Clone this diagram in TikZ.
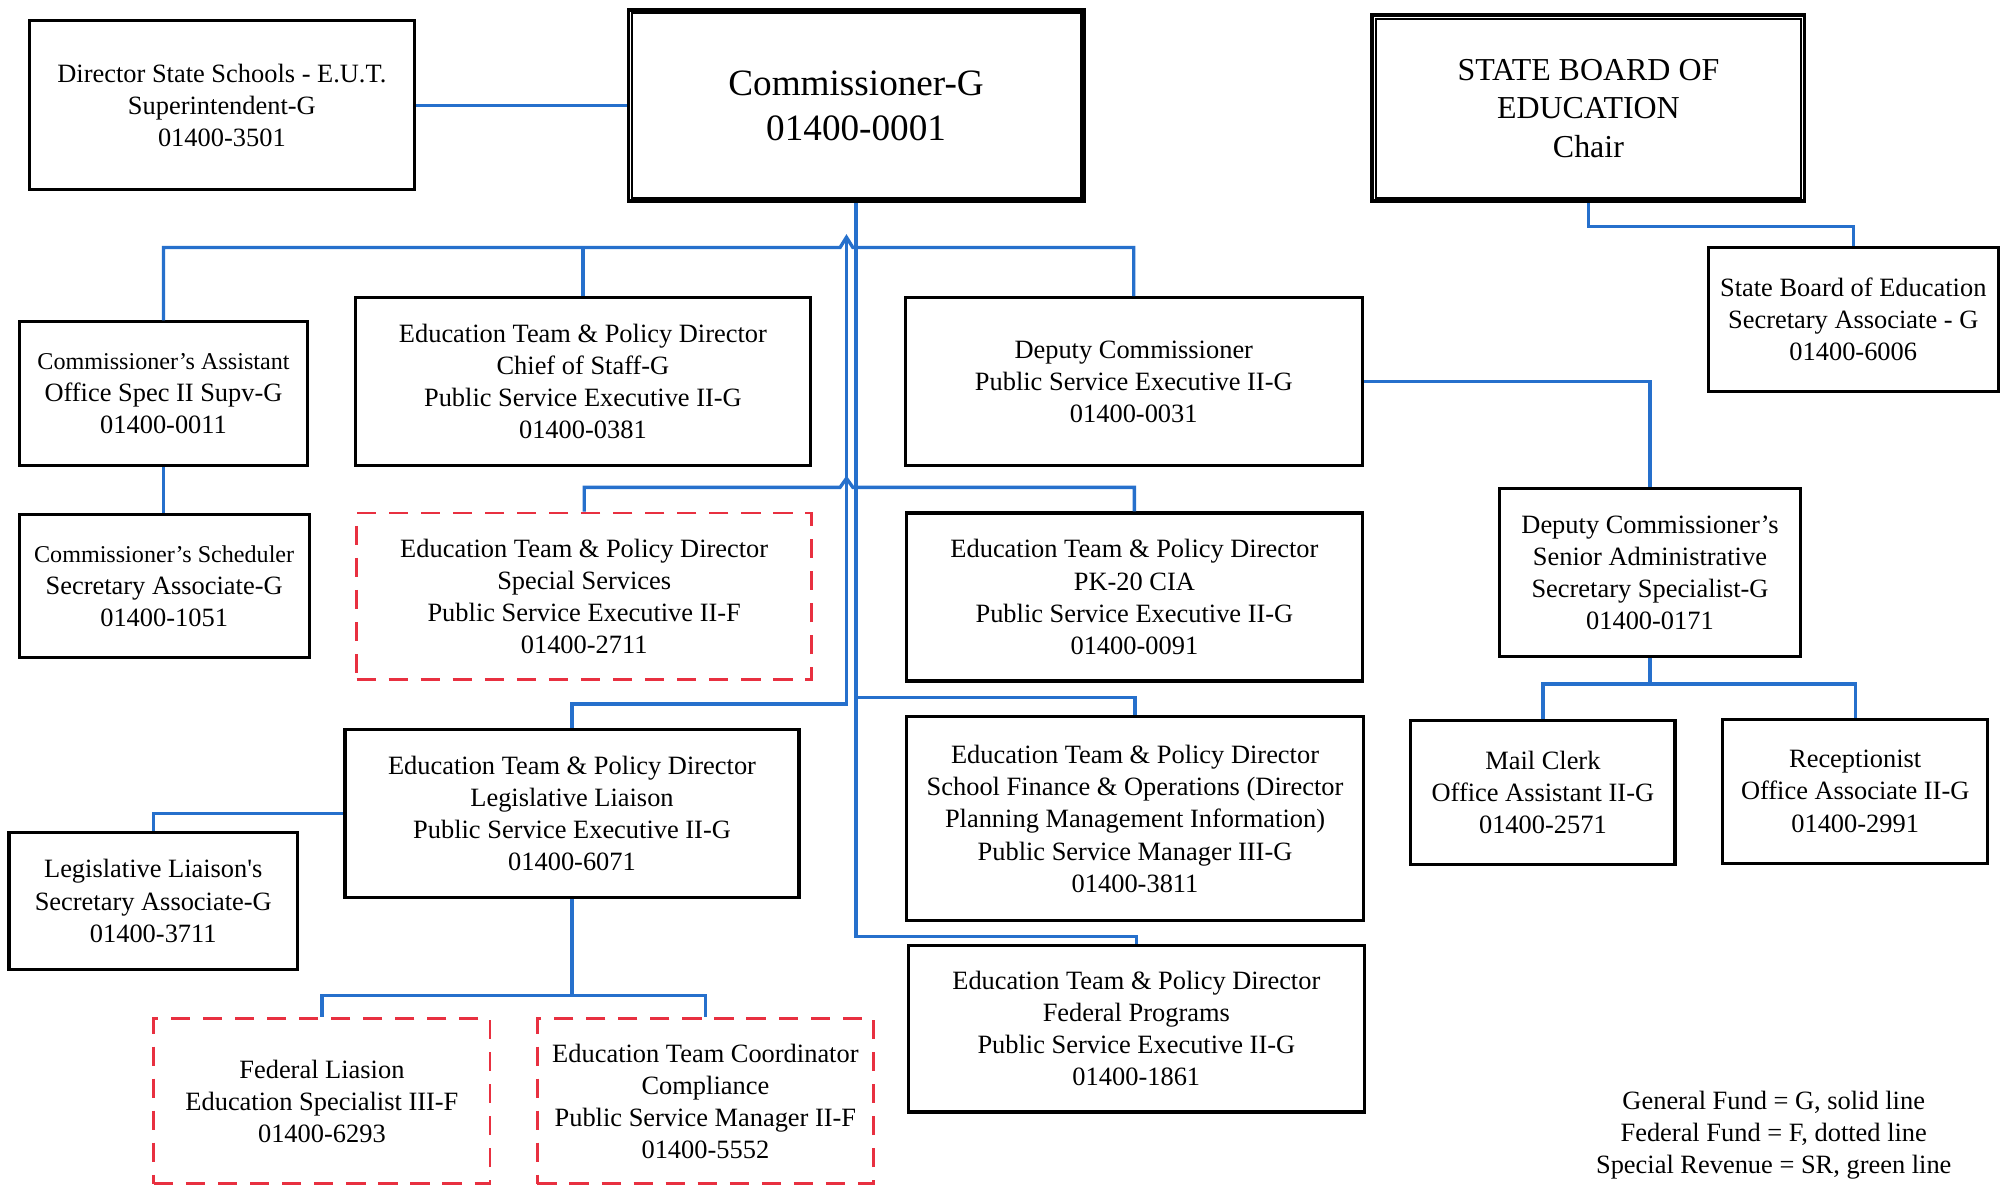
\documentclass[tikz,border=0pt]{standalone}
\usepackage{fontspec}
\setmainfont{Liberation Serif}
\definecolor{linkblue}{RGB}{38,112,204}
\definecolor{fedred}{RGB}{232,48,64}
\tikzset{
  base/.style={draw=black, line width=1.2pt, align=center, inner sep=0pt, font=\fontsize{10.3}{12.5}\selectfont},
  gbox/.style={base},
  fbox/.style={base, draw=fedred, line width=1.1pt, dash pattern=on 7.5pt off 5pt},
  link/.style={draw=linkblue, line width=1.3pt},
  headbox/.style={base, line width=1.5pt},
}
\newcommand{\orgbox}[7]{%
  \node[#6, minimum width={(#4-#2)*0.5pt}, minimum height={(#5-#3)*0.5pt}] (#1) at ({(#2+#4)/2},{(#3+#5)/2}) {#7};}
\begin{document}
\begin{tikzpicture}[x=0.5pt, y=-0.5pt]
\fill[white] (0,0) rectangle (1568,926);
\useasboundingbox (0,0) rectangle (1568,926);

\orgbox{dir}{23}{16}{323}{148}{gbox}{Director State Schools - E.U.T.\\Superintendent-G\\01400-3501}
\orgbox{comm}{490}{8}{845}{157}{headbox, font=\fontsize{14.5}{17.5}\selectfont}{Commissioner-G\\01400-0001}
\draw[line width=0.8pt] ([shift={(4,4)}]comm.north west) rectangle ([shift={(-4,-4)}]comm.south east);
\orgbox{sbe}{1070}{12}{1407}{157}{headbox, font=\fontsize{12.45}{15}\selectfont}{STATE BOARD OF\\EDUCATION\\Chair}
\draw[line width=0.8pt] ([shift={(4,4)}]sbe.north west) rectangle ([shift={(-4,-4)}]sbe.south east);
\orgbox{sbesec}{1332}{193}{1558}{305}{gbox}{State Board of Education\\Secretary Associate - G\\01400-6006}
\orgbox{asst}{15}{251}{240}{363}{gbox}{{\fontsize{9.4}{12}\selectfont Commissioner’s Assistant}\\Office Spec II Supv-G\\01400-0011}
\orgbox{chief}{277}{232}{632}{363}{gbox}{Education Team \& Policy Director\\Chief of Staff-G\\Public Service Executive II-G\\01400-0381}
\orgbox{dep}{706}{232}{1062}{363}{gbox}{Deputy Commissioner\\Public Service Executive II-G\\01400-0031}
\orgbox{sched}{15}{401}{241}{513}{gbox}{{\fontsize{9.4}{12}\selectfont Commissioner’s Scheduler}\\Secretary Associate-G\\01400-1051}
\orgbox{spec}{278}{400}{633}{530}{fbox}{Education Team \& Policy Director\\Special Services\\Public Service Executive II-F\\01400-2711}
\orgbox{pk}{707}{400}{1062}{531}{gbox}{Education Team \& Policy Director\\PK-20 CIA\\Public Service Executive II-G\\01400-0091}
\orgbox{dcsa}{1169}{381}{1404}{512}{gbox}{Deputy Commissioner’s\\Senior Administrative\\Secretary Specialist-G\\01400-0171}
\orgbox{mail}{1100}{562}{1306}{674}{gbox}{Mail Clerk\\Office Assistant II-G\\01400-2571}
\orgbox{recep}{1343}{561}{1550}{673}{gbox}{Receptionist\\Office Associate II-G\\01400-2991}
\orgbox{leg}{269}{569}{623}{700}{gbox}{Education Team \& Policy Director\\Legislative Liaison\\Public Service Executive II-G\\01400-6071}
\orgbox{legsec}{7}{649}{232}{756}{gbox}{Legislative Liaison\textquotesingle s\\Secretary Associate-G\\01400-3711}
\orgbox{sfo}{707}{559}{1063}{718}{gbox}{Education Team \& Policy Director\\School Finance \& Operations (Director\\Planning Management Information)\\Public Service Manager III-G\\01400-3811}
\orgbox{fedprog}{708}{737}{1064}{867}{gbox}{Education Team \& Policy Director\\Federal Programs\\Public Service Executive II-G\\01400-1861}
\orgbox{fedl}{120}{794}{382}{923}{fbox}{Federal Liasion\\Education Specialist III-F\\01400-6293}
\orgbox{comp}{419}{794}{681}{923}{fbox}{Education Team Coordinator\\Compliance\\Public Service Manager II-F\\01400-5552}
\node[align=center, inner sep=0pt, font=\fontsize{10.3}{12.5}\selectfont] (legend) at (1383,885) {General Fund = G, solid line\\Federal Fund = F, dotted line\\Special Revenue = SR, green line};

% connectors
\draw[link] (dir.east) -- (dir.east -| comm.west);
\draw[link] (comm.south) -- (comm.south |- 0,730) -| (fedprog.north);
\coordinate (hopA) at (660,185);
\coordinate (hopB) at (660,373);
\draw[link] (asst.north) |- (655,193) -- (hopA) -- (665,193) -| (dep.north);
\draw[link] (chief.north) -- (chief.north |- 0,193);
\draw[link] (spec.north) |- (655,380) -- (hopB) -- (665,380) -| (pk.north);
\draw[link] (hopA) -- (hopA |- 0,549) -| (leg.north);
\draw[link] (comm.south |- 0,544) -| (sfo.north);
\draw[link] (leg.west) -| (legsec.north);
\draw[link] (leg.south) -- ++(0,75) coordinate (lb);
\draw[link] (fedl.north) |- (lb) -| (comp.north);
\draw[link] (asst.south) -- (asst.south |- sched.north);
\draw[link] (sbe.south) -- ++(0,18) -| (sbesec.north);
\draw[link] (dep.east) -| (dcsa.north);
\draw[link] (dcsa.south) -- ++(0,20) coordinate (db);
\draw[link] (mail.north) |- (db) -| (recep.north);
\end{tikzpicture}
\end{document}
